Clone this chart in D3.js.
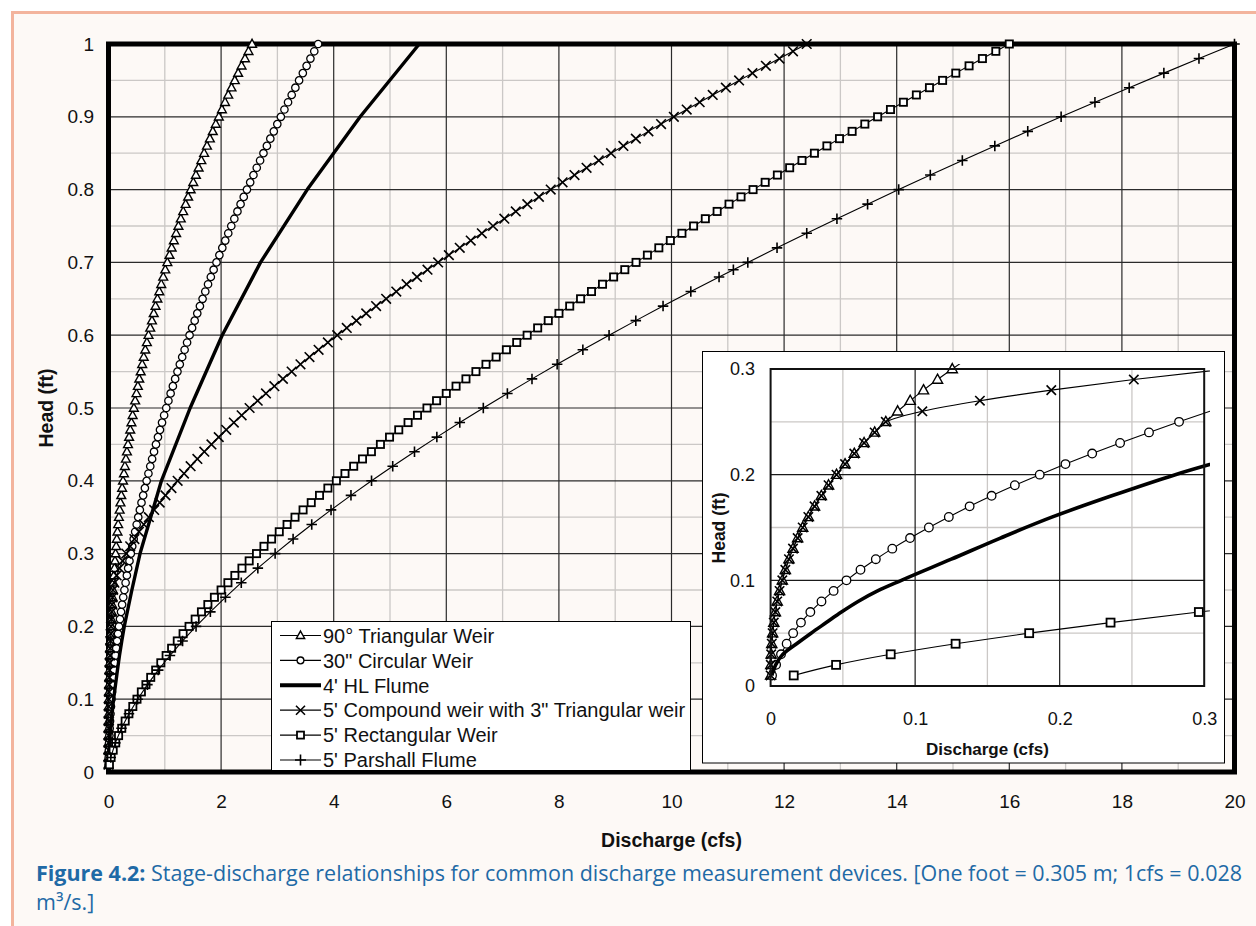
<!DOCTYPE html>
<html>
<head>
<meta charset="utf-8">
<script src="https://cdn.jsdelivr.net/npm/d3@7"></script>
<style>
  html, body { margin: 0; padding: 0; background: #ffffff; }
  svg { display: block; }
</style>
</head>
<body>
<svg id="chart" width="1256" height="926"></svg>
<script>
// ---- Rating data: head (ft) vs discharge (cfs) ----
const headFt = [0.01,0.02,0.03,0.04,0.05,0.06,0.07,0.08,0.09,0.10,
  0.11,0.12,0.13,0.14,0.15,0.16,0.17,0.18,0.19,0.20,
  0.21,0.22,0.23,0.24,0.25,0.26,0.27,0.28,0.29,0.30,
  0.31,0.32,0.33,0.34,0.35,0.36,0.37,0.38,0.39,0.40,
  0.41,0.42,0.43,0.44,0.45,0.46,0.47,0.48,0.49,0.50,
  0.51,0.52,0.53,0.54,0.55,0.56,0.57,0.58,0.59,0.60,
  0.61,0.62,0.63,0.64,0.65,0.66,0.67,0.68,0.69,0.70,
  0.71,0.72,0.73,0.74,0.75,0.76,0.77,0.78,0.79,0.80,
  0.81,0.82,0.83,0.84,0.85,0.86,0.87,0.88,0.89,0.90,
  0.91,0.92,0.93,0.94,0.95,0.96,0.97,0.98,0.99,1.00];

const triangularWeirFlow = [0.00003,0.00014,0.0004,0.0008,0.0014,0.0022,0.0033,0.0046,0.0062,0.0081,
  0.0102,0.0127,0.0155,0.0187,0.0222,0.0261,0.0304,0.0351,0.0401,0.0456,
  0.0515,0.0579,0.0647,0.0720,0.0797,0.0879,0.0966,0.1058,0.1155,0.1257,
  0.1364,0.1477,0.1595,0.1719,0.1848,0.1983,0.2123,0.2270,0.2422,0.2580,
  0.2745,0.2915,0.3092,0.3275,0.3464,0.3660,0.3862,0.4070,0.4286,0.4508,
  0.4737,0.4972,0.5215,0.5464,0.5721,0.5984,0.6255,0.6533,0.6818,0.7111,
  0.7411,0.7718,0.8033,0.8356,0.8686,0.9024,0.9370,0.9723,1.0085,1.0454,
  1.0831,1.1217,1.1610,1.2012,1.2422,1.2840,1.3267,1.3702,1.4145,1.4597,
  1.5058,1.5527,1.6004,1.6491,1.6986,1.7490,1.8003,1.8525,1.9055,1.9595,
  2.0144,2.0702,2.1269,2.1845,2.2431,2.3026,2.3630,2.4244,2.4867,2.5500];

const circularWeirFlow = [0.0010,0.0038,0.0072,0.0111,0.0156,0.0210,0.0275,0.0352,0.0436,0.0525,
  0.0622,0.0728,0.0842,0.0965,0.1095,0.1233,0.1377,0.1529,0.1690,0.1862,
  0.2040,0.2225,0.2418,0.2618,0.2826,0.3040,0.3261,0.3489,0.3725,0.3967,
  0.4216,0.4473,0.4736,0.5007,0.5284,0.5568,0.5860,0.6158,0.6462,0.6774,
  0.7092,0.7418,0.7749,0.8088,0.8433,0.8785,0.9144,0.9509,0.9880,1.0259,
  1.0644,1.1035,1.1433,1.1838,1.2249,1.2666,1.3090,1.3520,1.3957,1.4400,
  1.4850,1.5306,1.5768,1.6237,1.6712,1.7193,1.7681,1.8175,1.8675,1.9182,
  1.9695,2.0214,2.0739,2.1271,2.1808,2.2352,2.2903,2.3459,2.4021,2.4590,
  2.5165,2.5746,2.6333,2.6926,2.7525,2.8131,2.8742,2.9359,2.9983,3.0613,
  3.1248,3.1890,3.2538,3.3192,3.3851,3.4517,3.5189,3.5867,3.6550,3.7240];

const hlFlumeHead = [0.01,0.02,0.03,0.04,0.05,0.06,0.07,0.08,0.09,0.10,
  0.12,0.14,0.16,0.18,0.20,0.25,0.30,0.40,0.50,0.60,0.70,0.80,0.90,1.00];
const hlFlumeFlow = [0.0008,0.0035,0.0085,0.0180,0.0280,0.0385,0.0490,0.0605,0.0740,0.0905,
  0.1250,0.1590,0.1950,0.2360,0.2800,0.4150,0.5600,0.9400,1.4500,2.0200,2.7000,3.5300,4.4700,5.5200];

const compoundWeirFlow = [0.00003,0.00014,0.0004,0.0008,0.0014,0.0022,0.0033,0.0046,0.0062,0.0081,
  0.0102,0.0127,0.0155,0.0187,0.0222,0.0261,0.0304,0.0351,0.0401,0.0456,
  0.0515,0.0579,0.0647,0.0720,0.0797,0.1050,0.1448,0.1942,0.2513,0.3153,
  0.3852,0.4607,0.5414,0.6269,0.7168,0.8112,0.9096,1.0121,1.1182,1.2281,
  1.3415,1.4583,1.5785,1.7020,1.8285,1.9582,2.0908,2.2263,2.3648,2.5061,
  2.6502,2.7969,2.9463,3.0983,3.2529,3.4100,3.5696,3.7317,3.8960,4.0629,
  4.2321,4.4036,4.5773,4.7533,4.9315,5.1119,5.2945,5.4792,5.6660,5.8549,
  6.0458,6.2390,6.4340,6.6310,6.8301,7.0311,7.2341,7.4390,7.6457,7.8544,
  8.0650,8.2774,8.4916,8.7078,8.9256,9.1452,9.3668,9.5900,9.8149,10.0416,
  10.2701,10.5002,10.7321,10.9655,11.2008,11.4377,11.6762,11.9164,12.1582,12.4016];

const rectangularWeirFlow = [0.0160,0.0453,0.0831,0.1280,0.1789,0.2352,0.2963,0.3620,0.4320,0.5060,
  0.5837,0.6651,0.7500,0.8381,0.9295,1.0240,1.1215,1.2219,1.3251,1.4311,
  1.5397,1.6510,1.7649,1.8812,2.0000,2.1212,2.2447,2.3706,2.4987,2.6291,
  2.7616,2.8963,3.0331,3.1720,3.3130,3.4560,3.6010,3.7480,3.8969,4.0477,
  4.2004,4.3551,4.5115,4.6698,4.8299,4.9918,5.1555,5.3209,5.4880,5.6569,
  5.8274,5.9996,6.1735,6.3491,6.5263,6.7050,6.8854,7.0674,7.2510,7.4361,
  7.6228,7.8110,8.0008,8.1920,8.3848,8.5790,8.7747,8.9719,9.1705,9.3706,
  9.5721,9.7750,9.9794,10.1852,10.3923,10.6008,10.8108,11.0220,11.2347,11.4487,
  11.6640,11.8807,12.0987,12.3180,12.5386,12.7605,12.9837,13.2082,13.4340,13.6610,
  13.8893,14.1189,14.3497,14.5818,14.8151,15.0497,15.2854,15.5224,15.7606,16.0000];

const parshallHead = [0.02,0.04,0.06,0.08,0.10,0.12,0.14,0.16,0.18,0.20,
  0.22,0.24,0.26,0.28,0.30,0.32,0.34,0.36,0.38,0.40,
  0.42,0.44,0.46,0.48,0.50,0.52,0.54,0.56,0.58,0.60,
  0.62,0.64,0.66,0.68,0.69,0.70,0.72,0.74,0.76,0.78,
  0.80,0.82,0.84,0.86,0.88,0.90,0.92,0.94,0.96,0.98,1.00];
const parshallFlow = [0.0403,0.1209,0.2301,0.3633,0.5176,0.6913,0.8829,1.0914,1.3157,1.5551,
  1.8091,2.0769,2.3583,2.6526,2.9595,3.2787,3.6098,3.9526,4.3067,4.6720,
  5.0481,5.4349,5.8321,6.2396,6.6573,7.0848,7.5221,7.9690,8.4254,8.8911,
  9.3660,9.8500,10.3430,10.8448,11.0990,11.3554,11.8745,12.4023,12.9384,13.4829,
  14.0357,14.5966,15.1657,15.7427,16.3277,16.9205,17.5211,18.1294,18.7454,19.3689,20.0000];

const seriesNames = ["90\u00B0 Triangular Weir", "30\" Circular Weir", "4' HL Flume",
  "5' Compound weir with 3\" Triangular weir", "5' Rectangular Weir", "5' Parshall Flume"];

const xTicks = [0,2,4,6,8,10,12,14,16,18,20];
const yTicks = [0,0.1,0.2,0.3,0.4,0.5,0.6,0.7,0.8,0.9,1];
const insetTicks = [0,0.1,0.2,0.3];

// ---- Series table ----
const zipPts = (h, q) => h.map((v, i) => ({ h: v, q: q[i] }));
const series = [
  { name: seriesNames[0], pts: zipPts(headFt, triangularWeirFlow), marker: "triangle", lw: 1.1, inset: true },
  { name: seriesNames[1], pts: zipPts(headFt, circularWeirFlow), marker: "circle", lw: 1.1, inset: true },
  { name: seriesNames[2], pts: zipPts(hlFlumeHead, hlFlumeFlow), marker: "none", lw: 3.4, inset: true },
  { name: seriesNames[3], pts: zipPts(headFt, compoundWeirFlow), marker: "cross", lw: 1.1, inset: true },
  { name: seriesNames[4], pts: zipPts(headFt, rectangularWeirFlow), marker: "square", lw: 1.1, inset: true },
  { name: seriesNames[5], pts: zipPts(parshallHead, parshallFlow), marker: "plus", lw: 1.1, inset: false }
];

const FONT = '"Liberation Sans", Arial, Helvetica, sans-serif';
const svg = d3.select("#chart");

// ---- Page panel ----
svg.append("rect").attr("width", 1256).attr("height", 926).attr("fill", "#ffffff");
svg.append("rect").attr("x", 12).attr("y", 12).attr("width", 1244).attr("height", 914).attr("fill", "#fdf9f6");
svg.append("line").attr("x1", 11).attr("x2", 1256).attr("y1", 12.5).attr("y2", 12.5)
  .attr("stroke", "#f3b49d").attr("stroke-width", 3);
svg.append("line").attr("x1", 12.5).attr("x2", 12.5).attr("y1", 11).attr("y2", 926)
  .attr("stroke", "#f3b49d").attr("stroke-width", 3);

// ---- Marker drawing ----
function drawMarker(g, type, s) {
  if (type === "triangle") {
    g.append("path")
      .attr("d", `M0,${-s * 0.62}L${s * 0.58},${s * 0.42}L${-s * 0.58},${s * 0.42}Z`)
      .attr("fill", "#fff").attr("stroke", "#000").attr("stroke-width", 1.4);
  } else if (type === "circle") {
    g.append("circle").attr("r", s / 2)
      .attr("fill", "#fff").attr("stroke", "#000").attr("stroke-width", 1.3);
  } else if (type === "square") {
    g.append("rect").attr("x", -s / 2).attr("y", -s / 2).attr("width", s).attr("height", s)
      .attr("fill", "#fff").attr("stroke", "#000").attr("stroke-width", 1.8);
  } else if (type === "cross") {
    const a = s / 2;
    g.append("path").attr("d", `M${-a},${-a}L${a},${a}M${-a},${a}L${a},${-a}`)
      .attr("stroke", "#000").attr("stroke-width", 1.6).attr("fill", "none");
  } else if (type === "plus") {
    const a = s / 2;
    g.append("path").attr("d", `M${-a},0L${a},0M0,${-a}L0,${a}`)
      .attr("stroke", "#000").attr("stroke-width", 1.6).attr("fill", "none");
  }
}

function drawGrid(g, xs, ys, xMinor, xMajor, yMinor, yMajor, minorColor, majorColor) {
  const [x0, x1] = xs.range(), [y0, y1] = ys.range();
  g.selectAll(null).data(xMinor).join("line")
    .attr("x1", d => xs(d)).attr("x2", d => xs(d)).attr("y1", y0).attr("y2", y1)
    .attr("stroke", minorColor).attr("stroke-width", 1.3);
  g.selectAll(null).data(yMinor).join("line")
    .attr("y1", d => ys(d)).attr("y2", d => ys(d)).attr("x1", x0).attr("x2", x1)
    .attr("stroke", minorColor).attr("stroke-width", 1.3);
  g.selectAll(null).data(xMajor).join("line")
    .attr("x1", d => xs(d)).attr("x2", d => xs(d)).attr("y1", y0).attr("y2", y1)
    .attr("stroke", majorColor).attr("stroke-width", 1.2);
  g.selectAll(null).data(yMajor).join("line")
    .attr("y1", d => ys(d)).attr("y2", d => ys(d)).attr("x1", x0).attr("x2", x1)
    .attr("stroke", majorColor).attr("stroke-width", 1.2);
}

function styleAxis(g, size) {
  g.select(".domain").remove();
  g.selectAll(".tick line").remove();
  g.selectAll("text").attr("font-family", FONT).attr("font-size", size).attr("fill", "#111");
}

// ---- Main chart ----
const x = d3.scaleLinear().domain([0, 20]).range([108.5, 1234.5]);
const y = d3.scaleLinear().domain([0, 1]).range([772, 44]);

const main = svg.append("g");
drawGrid(main, x, y,
  d3.range(1, 20, 2), d3.range(2, 20, 2),
  d3.range(0.05, 1, 0.1), d3.range(0.1, 0.95, 0.1),
  "#cbc8c6", "#2b2b2b");

main.append("rect").attr("x", x(0)).attr("y", y(1))
  .attr("width", x(20) - x(0)).attr("height", y(0) - y(1))
  .attr("fill", "none").attr("stroke", "#000").attr("stroke-width", 5);

const xAxis = main.append("g").attr("transform", `translate(0,${y(0)})`)
  .call(d3.axisBottom(x).tickValues(xTicks).tickSize(0).tickPadding(23).tickFormat(d => String(d)));
styleAxis(xAxis, 19);
const yAxis = main.append("g").attr("transform", `translate(${x(0)},0)`)
  .call(d3.axisLeft(y).tickValues(yTicks).tickSize(0).tickPadding(14.5).tickFormat(d => String(d)));
styleAxis(yAxis, 19);

main.append("text").attr("x", 671.5).attr("y", 847)
  .attr("text-anchor", "middle").attr("font-family", FONT).attr("font-weight", "bold")
  .attr("font-size", 19.5).attr("fill", "#111").text("Discharge (cfs)");
main.append("text").attr("transform", "translate(53,408) rotate(-90)")
  .attr("text-anchor", "middle").attr("font-family", FONT).attr("font-weight", "bold")
  .attr("font-size", 19.5).attr("fill", "#111").text("Head (ft)");

const mainSize = { triangle: 7.6, circle: 7.4, square: 7.2, cross: 9.6, plus: 10.5 };
const lineMain = d3.line().x(d => x(d.q)).y(d => y(d.h));
series.forEach(s => {
  const g = main.append("g");
  g.append("path").attr("d", lineMain(s.pts)).attr("fill", "none")
    .attr("stroke", "#000").attr("stroke-width", s.lw).attr("stroke-linejoin", "round");
  if (s.marker !== "none") {
    g.selectAll("g.m").data(s.pts).join("g").attr("class", "m")
      .attr("transform", d => `translate(${x(d.q)},${y(d.h)})`)
      .each(function () { drawMarker(d3.select(this), s.marker, mainSize[s.marker]); });
  }
});

// ---- Legend ----
const legend = svg.append("g");
legend.append("rect").attr("x", 271.5).attr("y", 621.5).attr("width", 419).attr("height", 149)
  .attr("fill", "#fff").attr("stroke", "#000").attr("stroke-width", 1);
const legSize = { triangle: 7.2, circle: 6.8, square: 7, cross: 9, plus: 11 };
series.forEach((s, i) => {
  const cy = 635.5 + i * 24.9;
  const row = legend.append("g");
  row.append("line").attr("x1", 280).attr("x2", 321).attr("y1", cy).attr("y2", cy)
    .attr("stroke", "#000").attr("stroke-width", s.marker === "none" ? 4 : 1.2);
  if (s.marker !== "none") {
    const m = row.append("g").attr("transform", `translate(300.5,${cy})`);
    drawMarker(m, s.marker, legSize[s.marker]);
  }
  row.append("text").attr("x", 323).attr("y", cy).attr("dy", "0.36em")
    .attr("font-family", FONT).attr("font-size", 20).attr("fill", "#111").text(s.name);
});

// ---- Inset: low-flow detail ----
const inset = svg.append("g");
inset.append("rect").attr("x", 702.5).attr("y", 351.5).attr("width", 522).attr("height", 411.5)
  .attr("fill", "#fff").attr("stroke", "#000").attr("stroke-width", 1);

const ix = d3.scaleLinear().domain([0, 0.3]).range([770.6, 1204.2]);
const iy = d3.scaleLinear().domain([0, 0.3]).range([686, 369]);

drawGrid(inset, ix, iy,
  [0.05, 0.15, 0.25], [0.1, 0.2],
  [0.05, 0.15, 0.25], [0.1, 0.2],
  "#cbc8c6", "#1a1a1a");

const ixAxis = inset.append("g").attr("transform", `translate(0,${iy(0)})`)
  .call(d3.axisBottom(ix).tickValues(insetTicks).tickSize(0).tickPadding(26).tickFormat(d => String(d)));
styleAxis(ixAxis, 18);
const iyAxis = inset.append("g").attr("transform", `translate(${ix(0)},0)`)
  .call(d3.axisLeft(iy).tickValues(insetTicks).tickSize(0).tickPadding(15.5).tickFormat(d => String(d)));
styleAxis(iyAxis, 18);

inset.append("text").attr("x", 987.4).attr("y", 755)
  .attr("text-anchor", "middle").attr("font-family", FONT).attr("font-weight", "bold")
  .attr("font-size", 17).attr("fill", "#111").text("Discharge (cfs)");
inset.append("text").attr("transform", "translate(725,528) rotate(-90)")
  .attr("text-anchor", "middle").attr("font-family", FONT).attr("font-weight", "bold")
  .attr("font-size", 17.5).attr("fill", "#111").text("Head (ft)");

svg.append("clipPath").attr("id", "insetClip").append("rect")
  .attr("x", ix(0)).attr("y", iy(0.3) - 5).attr("width", 1210 - ix(0)).attr("height", iy(0) - iy(0.3) + 5);

const insetSize = { triangle: 8.8, circle: 8.6, square: 8, cross: 9.4, plus: 10 };
const lineInset = d3.line().curve(d3.curveMonotoneY).x(d => ix(d.q)).y(d => iy(d.h));
series.filter(s => s.inset).forEach(s => {
  const g = inset.append("g");
  g.append("path").attr("d", lineInset(s.pts)).attr("clip-path", "url(#insetClip)")
    .attr("fill", "none").attr("stroke", "#000")
    .attr("stroke-width", s.marker === "none" ? 3.6 : 1.1).attr("stroke-linejoin", "round");
  if (s.marker !== "none") {
    g.selectAll("g.m").data(s.pts.filter(d => d.q <= 0.3 && d.h <= 0.3)).join("g").attr("class", "m")
      .attr("transform", d => `translate(${ix(d.q)},${iy(d.h)})`)
      .each(function () { drawMarker(d3.select(this), s.marker, insetSize[s.marker]); });
  }
});

inset.append("rect").attr("x", ix(0)).attr("y", iy(0.3))
  .attr("width", ix(0.3) - ix(0)).attr("height", iy(0) - iy(0.3))
  .attr("fill", "none").attr("stroke", "#111").attr("stroke-width", 2);

// ---- Caption ----
const CAP_FONT = '"Open Sans", "Noto Sans", sans-serif';
const cap1 = svg.append("text").attr("x", 36).attr("y", 881)
  .attr("font-family", CAP_FONT).attr("font-size", 21.5).attr("fill", "#1f6aa6")
  .attr("textLength", 1206).attr("lengthAdjust", "spacingAndGlyphs");
cap1.append("tspan").attr("font-weight", "bold").text("Figure 4.2:");
cap1.append("tspan").text(" Stage-discharge relationships for common discharge measurement devices. [One foot = 0.305 m; 1cfs = 0.028");
svg.append("text").attr("x", 36).attr("y", 910)
  .attr("font-family", CAP_FONT).attr("font-size", 21.5).attr("fill", "#1f6aa6")
  .text("m\u00B3/s.]");
</script>
</body>
</html>
